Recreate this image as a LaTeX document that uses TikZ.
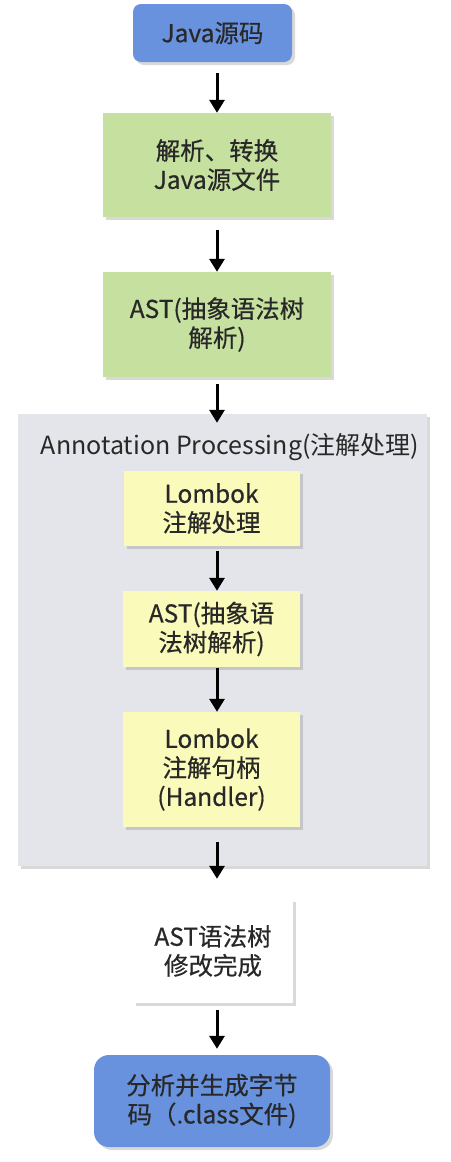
\documentclass[tikz,border=0pt]{standalone}
\usepackage{fontspec}
\newfontfamily\cjkfont{Noto Sans CJK SC}
\newfontfamily\cjkboxfont[FakeBold=0.5]{Noto Sans CJK SC}
\usepackage{tikz}
\usetikzlibrary{arrows.meta}
\usetikzlibrary{shadows}

\definecolor{srcblue}{RGB}{104,146,222}
\definecolor{stepgreen}{RGB}{198,224,160}
\definecolor{lombokyellow}{RGB}{250,250,186}
\definecolor{apgray}{RGB}{228,229,234}
\definecolor{txtgray}{RGB}{40,40,40}

\begin{document}
\begin{tikzpicture}[x=1pt,y=-1pt,
    box/.style={align=center, inner sep=0pt, text=txtgray,
      font=\cjkboxfont\fontsize{24.5}{29}\selectfont,
      drop shadow={shadow xshift=3pt,shadow yshift=-3pt,opacity=0.3}},
    arr/.style={-{Triangle[length=13pt,width=15pt]}, line width=3pt}]
    \useasboundingbox (0,0) rectangle (450,1162);
    % annotation processing area
    \node[box, fill=apgray, minimum width=409pt, minimum height=452pt] (ap) at (222.5,640) {};
    \node[font=\cjkfont\fontsize{25}{29}\selectfont, text=txtgray] (aptitle) at (230,447) {Annotation Processing(注解处理)};
    % main steps
    \node[box, fill=srcblue, rounded corners=8pt, minimum width=159pt, minimum height=58pt] (src) at (212.5,33) {Java源码};
    \node[box, fill=stepgreen, minimum width=228pt, minimum height=104pt] (parse) at (217,165) {解析、转换\\Java源文件};
    \node[box, fill=stepgreen, minimum width=228pt, minimum height=105pt] (ast) at (217,324.5) {AST(抽象语法树\\解析)};
    \node[box, fill=lombokyellow, minimum width=176pt, minimum height=75pt] (lombok) at (211.5,508.5) {Lombok\\注解处理};
    \node[box, fill=lombokyellow, minimum width=177pt, minimum height=76pt] (ast2) at (211.5,629) {AST(抽象语\\法树解析)};
    \node[box, fill=lombokyellow, minimum width=177pt, minimum height=115pt] (handler) at (211.5,769.5) {Lombok\\注解句柄\\(Handler)};
    \node[box, fill=white, minimum width=160pt, minimum height=104pt] (done) at (213,951) {AST语法树\\修改完成};
    \node[box, fill=srcblue, rounded corners=15pt, minimum width=236pt, minimum height=92pt] (cls) at (212,1101) {分析并生成字节\\码（.class文件)};
    % arrows
    \draw[arr, shorten <=11pt] (src.south -| parse.north) -- (parse.north);
    \draw[arr, shorten <=13pt] (parse.south) -- (ast.north);
    \draw[arr, shorten <=7pt, shorten >=-9pt] (ast.south) -- (ast.south |- ap.north);
    \draw[arr, shorten <=5pt] (lombok.south -| parse.south) -- (ast2.north -| parse.south);
    \draw[arr, shorten <=1pt] (ast2.south -| parse.south) -- (handler.north -| parse.south);
    \draw[arr, shorten <=15pt, shorten >=20pt] (handler.south -| parse.south) -- (done.north -| parse.south);
    \draw[arr, shorten <=7pt, shorten >=6pt] (done.south -| parse.south) -- (cls.north -| parse.south);
\end{tikzpicture}
\end{document}
